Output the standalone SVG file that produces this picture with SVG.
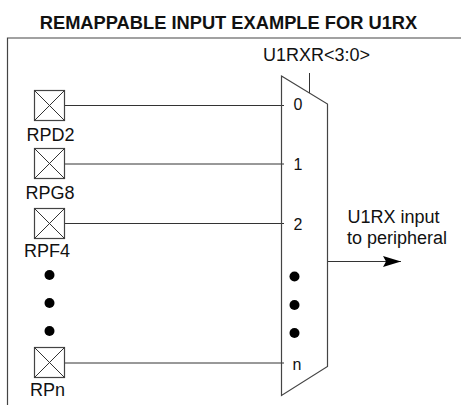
<svg xmlns="http://www.w3.org/2000/svg" width="461" height="405" viewBox="0 0 461 405">
<style>
text{font-family:"Liberation Sans",Arial,sans-serif;font-size:18px;fill:#111}
.t{font-weight:bold;font-size:18.3px}
.c{text-anchor:middle}
.s{font-size:16px}
.l{stroke:#333;stroke-width:1;fill:none}
.b{stroke:#444;stroke-width:1.2;fill:#fff}
.d{fill:#000}
</style>
<defs>
<g id="pad"><rect class="b" x="0" y="0" width="30" height="30"/><path class="l" d="M0 0L30 30M30 0L0 30"/></g>
<marker id="arr" markerUnits="userSpaceOnUse" markerWidth="19" markerHeight="12" refX="18" refY="5.5" orient="auto"><path d="M0 0L18 5.500L0 11L3 5.500Z" fill="#000"/></marker>
</defs>
<text class="t c" x="228.500" y="29">REMAPPABLE INPUT EXAMPLE FOR U1RX</text>
<path class="b" d="M7.500 405V38H461" style="fill:none"/>
<g id="connectors">
<path class="l" d="M64 105.500H284"/>
<path class="l" d="M64 164H284"/>
<path class="l" d="M64 223.500H284"/>
<path class="l" d="M64 363H284"/>
<path class="l" d="M309.500 73V93"/>
<path class="l" d="M327.500 261.500H401" marker-end="url(#arr)"/>
</g>
<g id="mux">
<path class="b" style="fill:none" d="M281.500 76L327.500 104V366.500L281.500 395.500Z"/>
<text class="c s" x="298" y="110">0</text>
<text class="c s" x="298" y="170">1</text>
<text class="c s" x="298" y="230">2</text>
<circle class="d" cx="294.500" cy="276.500" r="5"/>
<circle class="d" cx="294.500" cy="305" r="5"/>
<circle class="d" cx="294.500" cy="333" r="5"/>
<text class="c s" x="297" y="370">n</text>
</g>
<text id="sel" class="c" x="316.500" y="61">U1RXR&lt;3:0&gt;</text>
<g id="out"><text x="347.500" y="223">U1RX input</text><text x="347" y="244">to peripheral</text></g>
<g id="rpd2"><use href="#pad" x="34.500" y="90.500"/><text class="c" x="50.500" y="141">RPD2</text></g>
<g id="rpg8"><use href="#pad" x="34.500" y="148.500"/><text class="c" x="50" y="199">RPG8</text></g>
<g id="rpf4"><use href="#pad" x="34.500" y="208.500"/><text class="c" x="47" y="257">RPF4</text></g>
<g id="dots"><circle class="d" cx="49.500" cy="275" r="5"/><circle class="d" cx="49.500" cy="303" r="5"/><circle class="d" cx="49.500" cy="331" r="5"/></g>
<g id="rpn"><use href="#pad" x="34.500" y="347.500"/><text class="c" x="47.500" y="396">RPn</text></g>
</svg>
